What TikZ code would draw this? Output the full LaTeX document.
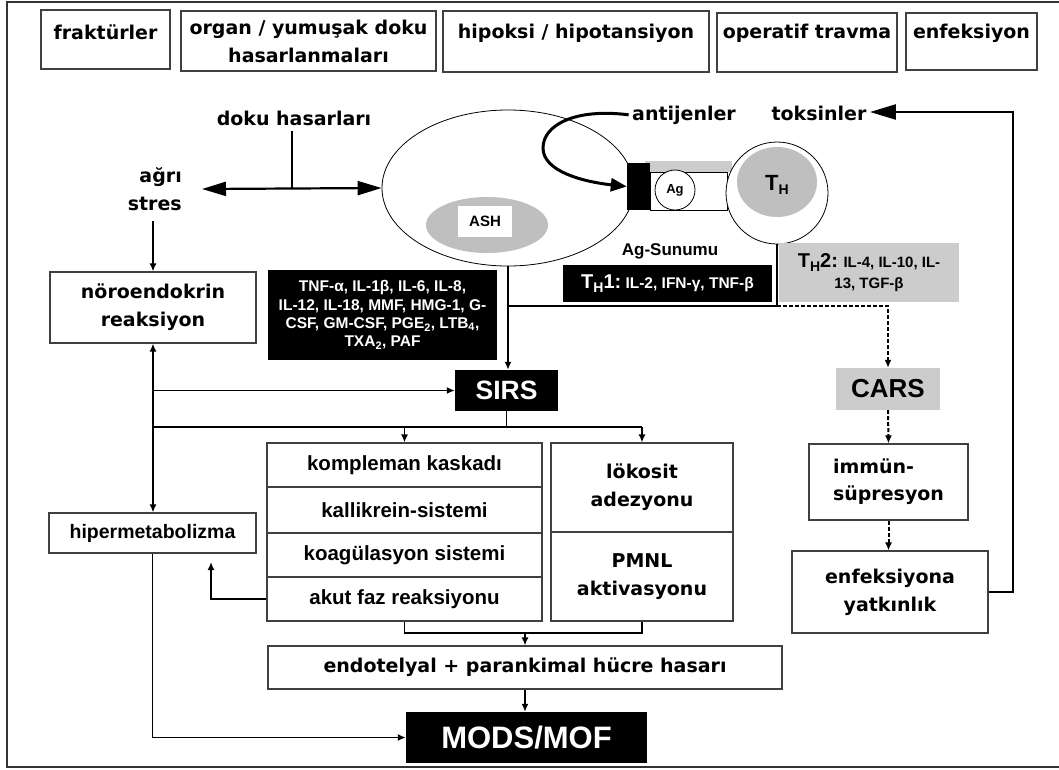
\documentclass[tikz,border=0pt]{standalone}
\usepackage{fontspec}
\setmainfont{DejaVu Sans}
\newfontfamily\arialf{Liberation Sans}
\usetikzlibrary{arrows.meta,shapes.geometric}
\newcommand\fw{\fontsize{19}{28}\selectfont\bfseries}
\newcommand\fa[2]{\arialf\fontsize{#1}{#2}\selectfont\bfseries}
\newcommand\subH{\raisebox{-0.35ex}{\fontsize{14}{14}\selectfont H}}
\begin{document}
\begin{tikzpicture}[x=1pt,y=-1pt,
  box/.style={draw=black!75, line width=1.1pt, fill=white, inner sep=0pt, align=center, font=\fw},
  conn/.style={line width=1.8pt, draw=black},
  arr/.style={conn, -{Latex[length=8pt,width=7pt]}},
  darr/.style={line width=2pt, dash pattern=on 4pt off 2pt, -{Latex[length=8pt,width=7pt]}},
  blk/.style={fill=black, text=white, inner sep=0pt, align=center},
  gry/.style={fill=gray!40, inner sep=0pt, align=center},
  cellline/.style={draw=black, line width=0.8pt},
  row/.style={box, minimum width=275, font=\fa{20.5}{24}}
]
\useasboundingbox (0,0) rectangle (1059,769);
\fill[white] (0,0) rectangle (1059,769);
\draw[line width=1.2pt, black!80] (1062,2) -- (7,2) -- (7,767) -- (1062,767);

% top boxes
\node[box, minimum width=129, text height=29, text depth=30] (frak) at (105.5,39.5) {fraktürler};
\node[box, minimum width=255, minimum height=60] (organ) at (308.5,41) {organ / yumuşak doku\\hasarlanmaları};
\node[box, minimum width=266, text height=27, text depth=34] (hipo) at (576,41.5) {hipoksi / hipotansiyon};
\node[box, minimum width=180, text height=25, text depth=34] (oper) at (807,42.5) {operatif travma};
\node[box, minimum width=131, text height=25, text depth=32] (enfk) at (971.5,41.5) {enfeksiyon};

% labels
\node[font=\fw, anchor=base] (doku) at (294,125) {doku hasarları};
\node[font=\fw, anchor=east, align=right, inner sep=0pt] (agri) at (182,189) {ağrı\\stres};
\node[font=\fw, anchor=base] (antij) at (684,120) {antijenler};
\node[font=\fw, anchor=base] (toks) at (819,120) {toksinler};

% cell
\node[ellipse, cellline, fill=white, minimum width=252, minimum height=156, inner sep=0pt] (cell) at (508,188) {};
\node[ellipse, fill=gray!50, minimum width=122, minimum height=56, inner sep=0pt] (nuc) at (487,225) {};
\node[fill=white, minimum width=54, minimum height=31, inner sep=0pt, font=\fa{15}{18}] (ash) at (485,221.5) {ASH};

% presentation
\node[fill=gray!40, minimum width=87, minimum height=11, inner sep=0pt] (bar) at (688.5,166.5) {};
\node[cellline, fill=white, minimum width=77, minimum height=38, inner sep=0pt] (tcr) at (688.5,191) {};
\node[fill=black, minimum width=23, minimum height=47, inner sep=0pt] (rec) at (638.5,186.5) {};
\node[circle, cellline, fill=white, minimum size=40, inner sep=0pt, font=\fa{13}{15}] (ag) at (675,190) {Ag};
\node[circle, cellline, fill=white, minimum size=102, inner sep=0pt] (th) at (777,193) {};
\node[ellipse, fill=gray!50, minimum width=80, minimum height=70, inner sep=0pt] (thn) at (777,182) {};
\node[font=\fa{22}{24}] (tht) at (777,185) {T\subH};

\draw[line width=3pt, -{Triangle[length=16pt,width=13pt]}] (antij.west) .. controls (575,108) and (543,125) .. (543,148) .. controls (543,172) and (585,182) .. (rec.west);

\node[font=\fa{17}{20}, anchor=base] (agsun) at (670,255) {Ag-Sunumu};
\node[blk, minimum width=209, minimum height=37] (th1) at (667.5,283.5) {{\fa{20}{22}T\subH1:} {\fa{15.5}{18}IL-2, IFN-γ, TNF-β}};
\node[gry, minimum width=180, minimum height=59, font=\fa{15}{21}] (th2) at (869,272.5) {{\fa{20}{21}T\subH2:} IL-4, IL-10, IL-\\13, TGF-β};

\node[blk, minimum width=229, minimum height=90, font=\fa{15.5}{18.3}] (cyto) at (382.5,315) {TNF-α, IL-1β, IL-6, IL-8,\\IL-12, IL-18, MMF, HMG-1, G-\\CSF, GM-CSF, PGE\textsubscript{2}, LTB\textsubscript{4},\\TXA\textsubscript{2}, PAF};

% left
\node[box, minimum width=206, minimum height=71] (noro) at (153,307.5) {nöroendokrin\\reaksiyon};
\node[box, minimum width=207, minimum height=40, font=\fa{19.5}{22}] (hiper) at (152.5,533) {hipermetabolizma};

% SIRS / CARS
\node[blk, minimum width=103, minimum height=41, font=\fa{26.5}{28}] (sirs) at (506.5,390.5) {SIRS};
\node[gry, minimum width=104, minimum height=42, font=\fa{26}{28}] (cars) at (888,389) {CARS};

% cascade
\node[row, minimum height=44] (k1) at (404.5,465) {kompleman kaskadı};
\node[row, minimum height=46] (k2) at (404.5,510) {kallikrein-sistemi};
\node[row, minimum height=44] (k3) at (404.5,555) {koagülasyon sistemi};
\node[row, minimum height=44] (k4) at (404.5,599) {akut faz reaksiyonu};
\node[box, minimum width=182, minimum height=89] (lok) at (642,487.5) {lökosit\\adezyonu};
\node[box, minimum width=182, minimum height=89] (pmnl) at (642,576.5) {PMNL\\aktivasyonu};

\node[box, minimum width=159, minimum height=76, align=left, font=\fontsize{19}{27}\selectfont\bfseries] (immun) at (888.5,482) {immün-\\süpresyon};
\node[box, minimum width=196, minimum height=82] (enf) at (890,592) {enfeksiyona\\yatkınlık};
\node[box, minimum width=514, minimum height=43] (endo) at (525,667.5) {endotelyal + parankimal hücre hasarı};
\node[blk, minimum width=241, minimum height=51, font=\fa{31}{34}] (mods) at (526.5,737.5) {MODS/MOF};

% connectors top
\coordinate (jn) at (292,189);
\coordinate (lt) at (202,189);
\draw[conn, line width=2pt, shorten <=2pt] (doku.south -| jn) -- (jn);
\draw[conn, line width=2.2pt, {Triangle[length=24pt,width=14pt]}-{Triangle[length=24pt,width=14pt]}] (lt) -- (cell.west);
\draw[arr] (agri.south -| noro.north) ++(0,10) -- (noro.north);

\coordinate (r1) at (1013,592);
\coordinate (r2) at (1013,112);
\draw[line width=2.5pt, -{Triangle[length=26pt,width=15pt]}] (enf.east) -- (r1) -- (r2) -- (toks.east |- r2);

\draw[arr] (cell.south) -- (cell.south |- sirs.north);
\coordinate (j1) at (508,306);
\coordinate (j2) at (777,306);
\coordinate (j3) at (888,306);
\draw[conn, line width=2.4pt] (j1) -- (j2) -- (th.south);
\draw[darr] (j2) -- (j3) -- (cars.north);
\draw[darr] (cars.south) -- (immun.south |- immun.north);
\draw[darr] (immun.south) -- (immun.south |- enf.north);

% left feedback
\coordinate (l1) at (153,390.5);
\coordinate (l2) at (153,427);
\draw[conn, {Latex[length=8pt,width=7pt]}-{Latex[length=8pt,width=7pt]}] (noro.south) -- (noro.south |- hiper.north);
\draw[arr] (l1) -- (sirs.west);
\draw[conn] (l2) -- (l2 -| lok.north);
\draw[conn] (sirs.south) -- (sirs.south |- l2);
\draw[arr] (l2 -| k1.north) -- (k1.north);
\draw[arr] (l2 -| lok.north) -- (lok.north);

\coordinate (h1) at (211,599);
\coordinate (h2) at (211,562);
\draw[arr] (k4.west) -- (h1) -- (h2);

% bottom
\coordinate (b1) at (404.5,633);
\coordinate (b2) at (642,633);
\draw[conn] (k4.south) -- (b1) -- (b2) -- (pmnl.south);
\draw[arr] (endo.north |- b1) -- (endo.north);
\draw[arr] (endo.south) -- (endo.south |- mods.north);
\draw[arr] (hiper.south) -- (hiper.south |- mods.west) -- (mods.west);
\end{tikzpicture}
\end{document}
